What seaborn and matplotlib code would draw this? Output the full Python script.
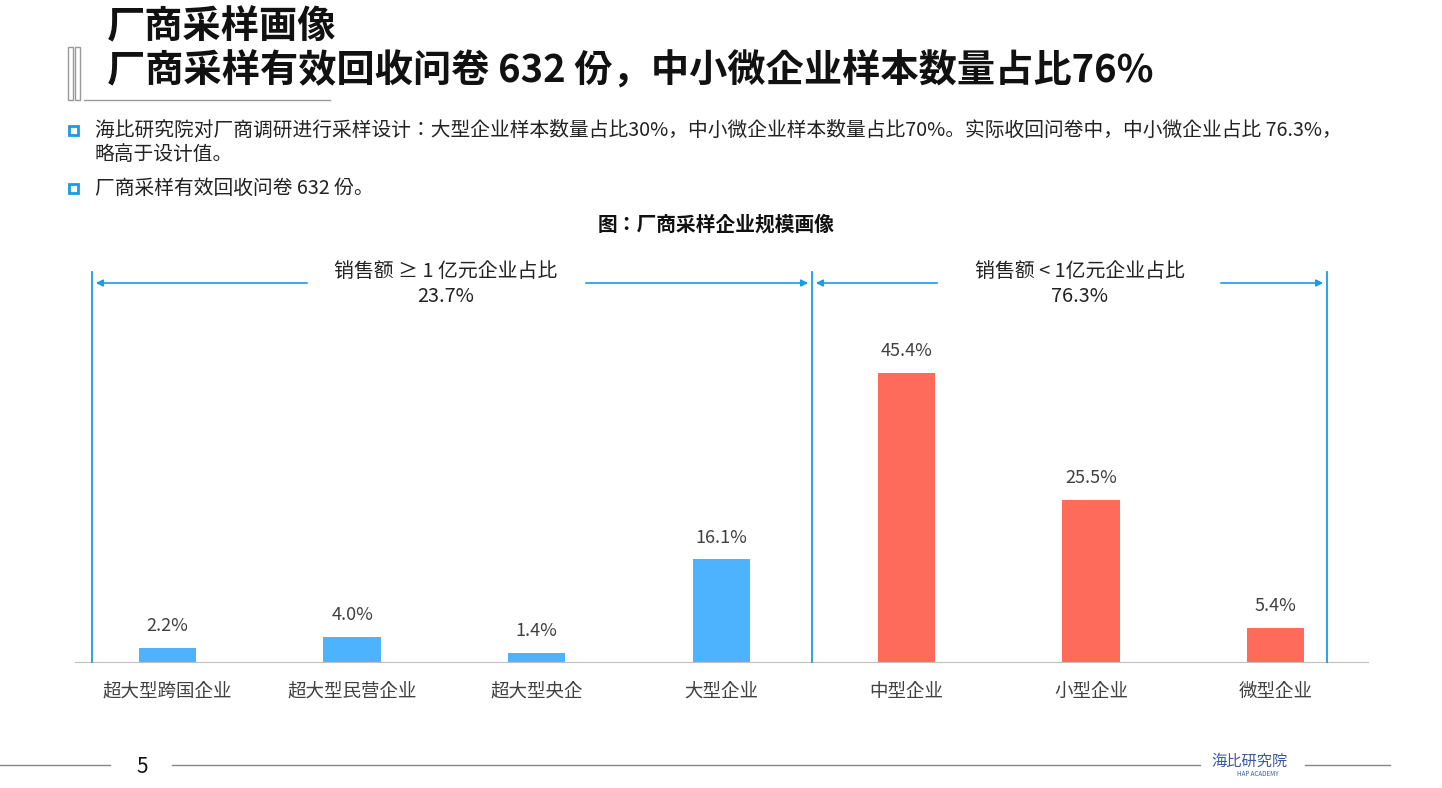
import matplotlib
matplotlib.use("Agg")
import matplotlib.pyplot as plt
import seaborn as sns
import pandas as pd
from matplotlib.patches import FancyArrowPatch, Rectangle
from matplotlib.lines import Line2D
from matplotlib import font_manager

names = {f.name for f in font_manager.fontManager.ttflist}
cjk = [n for n in ["Noto Sans CJK SC", "Noto Sans CJK JP", "Noto Sans CJK TC", "Noto Sans CJK KR"] if n in names]
cjk += [n for n in names if "CJK" in n and n not in cjk]
plt.rcParams['font.family'] = 'sans-serif'
plt.rcParams['font.sans-serif'] = cjk + ['DejaVu Sans']

categories = ["超大型跨国企业", "超大型民营企业", "超大型央企", "大型企业", "中型企业", "小型企业", "微型企业"]
values = [2.2, 4.0, 1.4, 16.1, 45.4, 25.5, 5.4]
groups = ["large", "large", "large", "large", "small", "small", "small"]
palette = {"large": "#4db3ff", "small": "#ff6b5b"}

W, H = 1442, 788
fig = plt.figure(figsize=(W/100, H/100), dpi=100)
def fx(x): return x / W
def fy(y): return 1 - y / H

ax = fig.add_axes([fx(75), fy(662), fx(1368)-fx(75), fy(250)-fy(662)])
df = pd.DataFrame({"cat": categories, "val": values, "grp": groups})
sns.barplot(data=df, x="cat", y="val", hue="grp", palette=palette, dodge=False,
            width=0.31, legend=False, saturation=1, ax=ax)
ax.set_xlim(-0.5, 6.5)
ax.set_ylim(0, (662-250)/6.37)
for i, v in enumerate(values):
    ax.text(i, v + 2.0, f"{v:.1f}%", ha="center", va="bottom", fontsize=13, color="#404040")
for s in ["top", "right", "left"]:
    ax.spines[s].set_visible(False)
ax.spines["bottom"].set_color("#bfbfbf")
ax.set_yticks([])
ax.set_xlabel(""); ax.set_ylabel("")
ax.tick_params(axis="x", length=0, labelsize=13.3, labelcolor="#404040", pad=15)

blue = "#1a9be6"
for x in [92, 812, 1327]:
    fig.add_artist(Line2D([fx(x), fx(x)], [fy(272), fy(662)], color=blue, lw=1.3))
def arrow(x0, x1):
    fig.add_artist(FancyArrowPatch((fx(x0), fy(283)), (fx(x1), fy(283)), transform=fig.transFigure,
                                   arrowstyle="-|>", mutation_scale=10, color=blue, lw=1.2))
arrow(310, 93); arrow(583, 811); arrow(940, 813); arrow(1218, 1326)
fig.text(fx(446), fy(272), "销售额 ≥ 1 亿元企业占比", ha="center", va="center", fontsize=14.3, color="#222")
fig.text(fx(446), fy(296), "23.7%", ha="center", va="center", fontsize=14.3, color="#222")
fig.text(fx(1080), fy(272), "销售额 < 1亿元企业占比", ha="center", va="center", fontsize=14.3, color="#222")
fig.text(fx(1080), fy(296), "76.3%", ha="center", va="center", fontsize=14.3, color="#222")

fig.text(fx(716), fy(225), "图：厂商采样企业规模画像", ha="center", va="center", fontsize=14.2, fontweight="bold", color="#111")

fig.text(fx(107), fy(27), "厂商采样画像", ha="left", va="center", fontsize=27.5, fontweight="bold", color="#111")
fig.text(fx(107), fy(71), "厂商采样有效回收问卷 632 份，中小微企业样本数量占比76%", ha="left", va="center", fontsize=27.5, fontweight="bold", color="#111")
for x in [68, 75]:
    fig.add_artist(Rectangle((fx(x), fy(100)), fx(5), fy(47)-fy(100), transform=fig.transFigure,
                             facecolor="none", edgecolor="#999", lw=1))
fig.add_artist(Line2D([fx(84), fx(330)], [fy(100), fy(100)], color="#999", lw=1))

for y in [130, 188]:
    fig.add_artist(Rectangle((fx(69), fy(y)-0.006), fx(9), fy(0)-fy(9), transform=fig.transFigure,
                             facecolor="none", edgecolor="#1a9be6", lw=2))
fig.text(fx(95), fy(130), "海比研究院对厂商调研进行采样设计：大型企业样本数量占比30%，中小微企业样本数量占比70%。实际收回问卷中，中小微企业占比 76.3%，",
         ha="left", va="center", fontsize=14.2, color="#222")
fig.text(fx(95), fy(154), "略高于设计值。", ha="left", va="center", fontsize=14.2, color="#222")
fig.text(fx(95), fy(188), "厂商采样有效回收问卷 632 份。", ha="left", va="center", fontsize=14.2, color="#222")

fig.add_artist(Line2D([0, fx(110)], [fy(765), fy(765)], color="#888", lw=1))
fig.add_artist(Line2D([fx(172), fx(1200)], [fy(765), fy(765)], color="#888", lw=1))
fig.add_artist(Line2D([fx(1305), fx(1390)], [fy(765), fy(765)], color="#888", lw=1))
fig.text(fx(142), fy(767), "5", ha="center", va="center", fontsize=15, color="#111")
fig.text(fx(1250), fy(761), "海比研究院", ha="center", va="center", fontsize=11, color="#3a5a9a")
fig.text(fx(1258), fy(774), "HAP ACADEMY", ha="center", va="center", fontsize=4.5, color="#3a5a9a")

fig.savefig("out.png", dpi=100)
